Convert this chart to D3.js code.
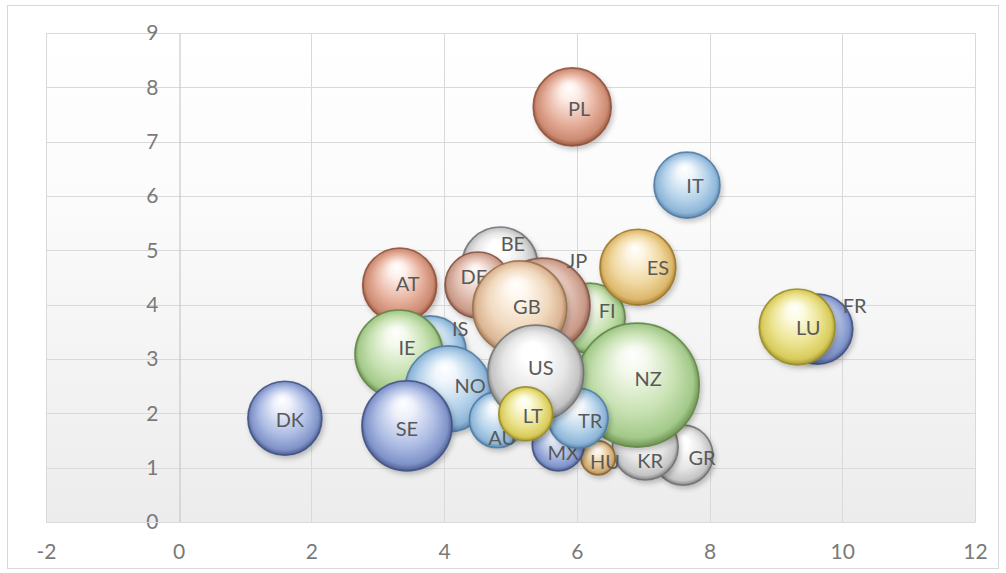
<!DOCTYPE html>
<html>
<head>
<meta charset="utf-8">
<script src="https://cdn.jsdelivr.net/npm/d3@7"></script>
<style>
  html, body { margin: 0; padding: 0; background: #fff; }
  svg { display: block; }
</style>
</head>
<body>
<svg id="chart" width="1006" height="573"></svg>
<script>
// ---------- data (drawing order = series order) ----------
const countries = ["BE","DE","AT","FI","JP","GB","IS","IE","NO","AU","SE","DK","PL","IT","ES","FR","LU","GR","KR","HU","MX","NZ","TR","US","LT"];
const xValues   = [4.84,4.51,3.33,6.20,5.49,5.14,3.79,3.32,4.06,4.80,3.44,1.60,5.93,7.66,6.92,9.63,9.32,7.60,7.03,6.32,5.72,6.91,6.02,5.38,5.23];
const yValues   = [4.73,4.36,4.36,3.75,3.99,3.94,3.13,3.09,2.45,1.88,1.77,1.91,7.64,6.20,4.69,3.55,3.59,1.23,1.38,1.18,1.42,2.52,1.91,2.74,1.99];
const sizeValues= [14.4,10.9,13.7,12.3,22.1,22.1,13.0,19.4,18.5,7.8,20.3,13.7,15.2,10.9,14.4,12.3,14.4,9.0,10.9,2.9,6.8,38.4,9.0,23.0,7.3];
const xTicks = [-2,0,2,4,6,8,10,12];
const yTicks = [0,1,2,3,4,5,6,7,8,9];

// ---------- styles ----------
const palettes = {
  violet: ["#eef1fb","#aebde4","#7f93c9","#3f4f80"],
  salmon: ["#fdeee8","#e6b09c","#cc8a72","#8e4d38"],
  green:  ["#f3f9ec","#c7e1b1","#a3c98a","#5f8444"],
  lblue:  ["#f1f7fc","#b6d3ea","#8db5d8","#4f7aa0"],
  yellow: ["#fdfbe2","#ebe38f","#d8cb5c","#978a26"],
  gold:   ["#fdf5e2","#efd79f","#dcb76a","#9c7428"],
  white:  ["#ffffff","#e6e6e6","#c4c4c4","#707070"],
  peach:  ["#fef6ec","#f0d8bd","#dbb593","#97704c"],
  rose:   ["#faeae3","#dfbcae","#c99887","#80503f"],
  tan:    ["#fbf0df","#e5c898","#cba56b","#8b6530"]
};
const colorOf = {
  BE:"white", DE:"rose", AT:"salmon", FI:"green", JP:"rose", GB:"peach", IS:"lblue",
  IE:"green", NO:"lblue", AU:"lblue", SE:"violet", DK:"violet", PL:"salmon", IT:"lblue",
  ES:"gold", FR:"violet", LU:"yellow", GR:"white", KR:"white", HU:"tan", MX:"violet",
  NZ:"green", TR:"lblue", US:"white", LT:"yellow"
};
const labelNudge = {
  PL:[7,1], IT:[8,0], ES:[20,0], LU:[11,0], FR:[37,-24], AT:[8,-2], DE:[-4,-9], BE:[13,-22],
  JP:[34,-45], GB:[7,-2], FI:[17,-8], IE:[8,-7], IS:[30,-24], NO:[22,-4], SE:[0,2], DK:[5,1],
  US:[5,-6], LT:[7,1], TR:[12,2], AU:[5,17], MX:[5,7], HU:[7,3], KR:[5,13], GR:[19,2], NZ:[11,-7]
};

const svg = d3.select("#chart");
const plot = {left: 46, right: 975, top: 33, bottom: 522};

const x = d3.scaleLinear().domain([-2, 12]).range([plot.left, plot.right]);
const y = d3.scaleLinear().domain([0, 9]).range([plot.bottom, plot.top]);
const r = d3.scaleSqrt().domain([0, d3.max(sizeValues)]).range([0, 62]);

const defs = svg.append("defs");
const bg = defs.append("linearGradient").attr("id","bg").attr("x1",0).attr("y1",0).attr("x2",0).attr("y2",1);
bg.append("stop").attr("offset","0%").attr("stop-color","#ffffff");
bg.append("stop").attr("offset","35%").attr("stop-color","#fbfbfb");
bg.append("stop").attr("offset","100%").attr("stop-color","#ececec");

Object.entries(palettes).forEach(([k, c]) => {
  const g = defs.append("radialGradient").attr("id","g-"+k)
    .attr("cx","50%").attr("cy","50%").attr("r","52%").attr("fx","46%").attr("fy","24%");
  g.append("stop").attr("offset","0%").attr("stop-color","#ffffff");
  g.append("stop").attr("offset","22%").attr("stop-color",c[0]);
  g.append("stop").attr("offset","62%").attr("stop-color",c[1]);
  g.append("stop").attr("offset","88%").attr("stop-color",c[2]);
  g.append("stop").attr("offset","100%").attr("stop-color",c[3]);
});
const sh = defs.append("filter").attr("id","shadow").attr("x","-30%").attr("y","-30%").attr("width","160%").attr("height","160%");
sh.append("feDropShadow").attr("dx",2).attr("dy",3).attr("stdDeviation",2.5).attr("flood-color","#000").attr("flood-opacity",0.22);

// outer frame
svg.append("rect").attr("x",7.5).attr("y",5.5).attr("width",991).attr("height",563)
  .attr("fill","#fff").attr("stroke","#d9d9d9").attr("stroke-width",1);

// plot background
svg.append("rect").attr("x",plot.left).attr("y",plot.top)
  .attr("width",plot.right-plot.left).attr("height",plot.bottom-plot.top)
  .attr("fill","url(#bg)");

// gridlines
svg.append("g").selectAll("line").data(yTicks).join("line")
  .attr("x1",plot.left).attr("x2",plot.right)
  .attr("y1",d=>Math.round(y(d))+0.5).attr("y2",d=>Math.round(y(d))+0.5)
  .attr("stroke","#d9d9d9").attr("stroke-width",1);
svg.append("g").selectAll("line").data(xTicks.filter(d=>d!==0)).join("line")
  .attr("x1",d=>Math.round(x(d))+0.5).attr("x2",d=>Math.round(x(d))+0.5)
  .attr("y1",plot.top).attr("y2",plot.bottom)
  .attr("stroke","#d9d9d9").attr("stroke-width",1);

// axes
const font = "Lato, 'Open Sans', 'Liberation Sans', sans-serif";
const fmt = d => String(d);
const yAxis = svg.append("g")
  .attr("transform",`translate(${Math.round(x(0))+0.5},0)`)
  .call(d3.axisLeft(y).tickValues(yTicks).tickSize(0).tickPadding(21).tickFormat(fmt));
yAxis.select(".domain").attr("stroke","#bfbfbf");
yAxis.selectAll("text").attr("fill","#7a7a7a").style("font-family",font).style("font-size","21px");

const xAxis = svg.append("g")
  .attr("transform",`translate(0,${plot.bottom})`)
  .call(d3.axisBottom(x).tickValues(xTicks).tickSize(0).tickPadding(22).tickFormat(fmt));
xAxis.select(".domain").attr("stroke","#d9d9d9");
xAxis.selectAll("text").attr("fill","#7a7a7a").style("font-family",font).style("font-size","21px");

// bubbles, one series per country (bubble then its label)
const data = countries.map((c,i)=>({c, x:xValues[i], y:yValues[i], s:sizeValues[i]}));
const series = svg.append("g").selectAll("g").data(data).join("g");
series.append("circle")
  .attr("cx",d=>x(d.x)).attr("cy",d=>y(d.y)).attr("r",d=>r(d.s))
  .attr("fill",d=>`url(#g-${colorOf[d.c]})`)
  .attr("stroke",d=>palettes[colorOf[d.c]][3]).attr("stroke-opacity",0.85).attr("stroke-width",1.6)
  .attr("filter","url(#shadow)");
series.append("text")
  .attr("x",d=>x(d.x)+labelNudge[d.c][0]).attr("y",d=>y(d.y)+labelNudge[d.c][1])
  .attr("text-anchor","middle").attr("dominant-baseline","central")
  .attr("fill","#595959").style("font-family",font).style("font-size","20px")
  .text(d=>d.c);
</script>
</body>
</html>
